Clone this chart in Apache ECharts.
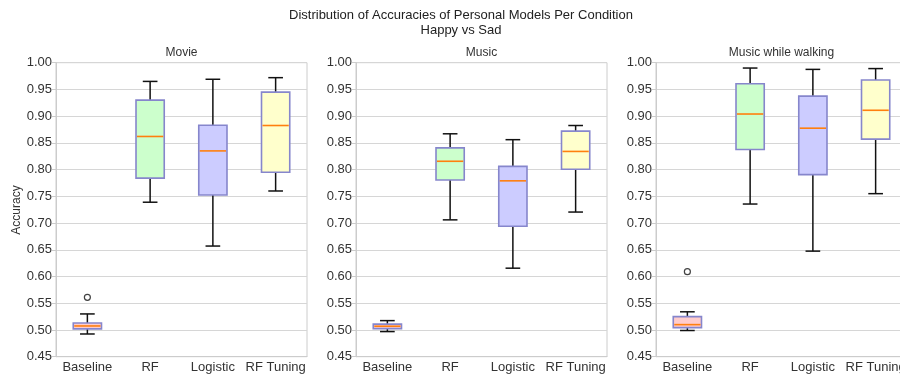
<!DOCTYPE html>
<html>
<head>
<meta charset="utf-8">
<script src="https://cdn.jsdelivr.net/npm/echarts@6/dist/echarts.min.js"></script>
<style>html,body{margin:0;padding:0;background:#fff}#c{width:900px;height:376px}</style>
</head>
<body>
<div id="c"></div>
<script>
const categories = ['Baseline', 'RF', 'Logistic', 'RF Tuning'];
const panelTitles = ['Movie', 'Music', 'Music while walking'];
const yTicks = [0.45, 0.50, 0.55, 0.60, 0.65, 0.70, 0.75, 0.80, 0.85, 0.90, 0.95, 1.00];
// [lower whisker, q1, median, q3, upper whisker]
const movieStats = [
  [0.4925, 0.502, 0.5075, 0.513, 0.530],
  [0.739, 0.784, 0.862, 0.930, 0.965],
  [0.657, 0.7525, 0.835, 0.883, 0.969],
  [0.760, 0.795, 0.8825, 0.945, 0.972]
];
const musicStats = [
  [0.497, 0.5025, 0.507, 0.511, 0.5175],
  [0.706, 0.7806, 0.8156, 0.8406, 0.867],
  [0.6156, 0.694, 0.779, 0.806, 0.856],
  [0.7206, 0.8006, 0.834, 0.872, 0.8825]
];
const walkingStats = [
  [0.499, 0.5044, 0.510, 0.525, 0.534],
  [0.7356, 0.8375, 0.904, 0.9606, 0.990],
  [0.6475, 0.7906, 0.8775, 0.9375, 0.9875],
  [0.755, 0.857, 0.911, 0.9675, 0.989]
];
const movieOutliers = [[0, 0.561]];
const musicOutliers = [];
const walkingOutliers = [[0, 0.609]];
const boxFills = ['#ffcccc', '#ccffcc', '#ccccff', '#ffffcc'];

const allStats = [movieStats, musicStats, walkingStats];
const allOutliers = [movieOutliers, musicOutliers, walkingOutliers];
const gridLefts = [56, 356, 656];
const gridW = 251;
const FONT = 'Liberation Sans, Arial, sans-serif';

const grids = [], xAxes = [], yAxes = [], series = [], graphics = [];
for (let p = 0; p < 3; p++) {
  grids.push({left: gridLefts[p], top: 62.7, width: gridW, height: 294, show: true, borderColor: '#cccccc', borderWidth: 1, backgroundColor: 'transparent', containLabel: false, outerBoundsMode: 'none'});
  xAxes.push({
    type: 'category', gridIndex: p, data: categories, boundaryGap: true,
    axisLine: {show: true, lineStyle: {color: '#cccccc'}},
    axisTick: {show: false},
    axisLabel: {color: '#333', fontSize: 13, fontFamily: FONT, margin: 4, interval: 0, hideOverlap: false}
  });
  yAxes.push({
    type: 'value', gridIndex: p, min: 0.45, max: 1.0, interval: 0.05,
    axisLine: {show: true, lineStyle: {color: '#cccccc'}},
    axisTick: {show: true, length: 4, lineStyle: {color: '#cccccc'}},
    axisLabel: {color: '#333', fontSize: 13, fontFamily: FONT, margin: 4, formatter: v => v.toFixed(2)},
    splitLine: {show: true, lineStyle: {color: '#d6d6d6', width: 1}}
  });
  const data = allStats[p].map((s, i) => [i].concat(s));
  series.push({
    type: 'custom', xAxisIndex: p, yAxisIndex: p, data: data,
    encode: {x: 0, y: [1, 2, 3, 4, 5]},
    renderItem: function (params, api) {
      const c = api.value(0);
      const lo = api.coord([c, api.value(1)]);
      const q1 = api.coord([c, api.value(2)]);
      const med = api.coord([c, api.value(3)]);
      const q3 = api.coord([c, api.value(4)]);
      const hi = api.coord([c, api.value(5)]);
      const slot = api.size([1, 0])[0];
      const bw = slot * 0.45;
      const cw = bw * 0.52;
      const x = lo[0];
      const fill = boxFills[c];
      const wl = {stroke: '#111', lineWidth: 1.5};
      return {
        type: 'group',
        children: [
          {type: 'line', shape: {x1: x, y1: q3[1], x2: x, y2: hi[1]}, style: wl},
          {type: 'line', shape: {x1: x, y1: q1[1], x2: x, y2: lo[1]}, style: wl},
          {type: 'line', shape: {x1: x - cw / 2, y1: hi[1], x2: x + cw / 2, y2: hi[1]}, style: wl},
          {type: 'line', shape: {x1: x - cw / 2, y1: lo[1], x2: x + cw / 2, y2: lo[1]}, style: wl},
          {type: 'rect', shape: {x: x - bw / 2, y: q3[1], width: bw, height: q1[1] - q3[1]}, style: {fill: fill, stroke: '#8686cc', lineWidth: 1.6}},
          {type: 'line', shape: {x1: x - bw / 2 + 1, y1: med[1], x2: x + bw / 2 - 1, y2: med[1]}, style: {stroke: '#ff7f0e', lineWidth: 1.6}}
        ]
      };
    }
  });
  series.push({
    type: 'scatter', xAxisIndex: p, yAxisIndex: p, data: allOutliers[p],
    symbol: 'circle', symbolSize: 6,
    itemStyle: {color: '#ffffff', borderColor: '#111', borderWidth: 1.2}
  });
  graphics.push({type: 'text', x: gridLefts[p] + gridW / 2, y: 53, style: {text: panelTitles[p], fill: '#333', font: '12px ' + FONT, textAlign: 'center', textVerticalAlign: 'middle'}});
}
graphics.push({type: 'text', x: 461, y: 15, style: {text: 'Distribution of Accuracies of Personal Models Per Condition', fill: '#222', font: '13px ' + FONT, textAlign: 'center', textVerticalAlign: 'middle'}});
graphics.push({type: 'text', x: 461, y: 30, style: {text: 'Happy vs Sad', fill: '#222', font: '13px ' + FONT, textAlign: 'center', textVerticalAlign: 'middle'}});
graphics.push({type: 'text', x: 17, y: 210, rotation: Math.PI / 2, style: {text: 'Accuracy', fill: '#333', font: '12px ' + FONT, textAlign: 'center', textVerticalAlign: 'middle'}});

const chart = echarts.init(document.getElementById('c'), null, {renderer: 'canvas'});
chart.setOption({
  animation: false,
  backgroundColor: '#ffffff',
  grid: grids, xAxis: xAxes, yAxis: yAxes, series: series, graphic: graphics
});
</script>
</body>
</html>
